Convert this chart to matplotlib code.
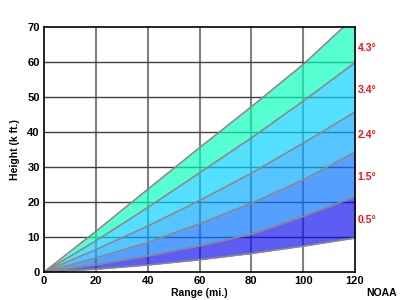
import matplotlib
matplotlib.use("agg")
import matplotlib.pyplot as plt
import numpy as np

# beam height (k ft) vs range (mi)
ranges = [0, 20, 40, 60, 80, 100, 120]
beam_top = [0, 11.6, 23.6, 35.5, 47.2, 59.3, 73.0]
beam_43 = [0, 8.9, 18.4, 28.3, 38.3, 48.8, 59.8]
beam_34 = [0, 6.4, 13.1, 20.4, 28.2, 36.8, 45.7]
beam_24 = [0, 4.0, 8.4, 13.8, 19.6, 26.3, 34.2]
beam_15 = [0, 2.1, 4.6, 7.5, 10.8, 15.9, 21.5]
beam_bot = [0, 0.8, 2.0, 3.5, 5.3, 7.4, 9.7]

angles = ['4.3°', '3.4°', '2.4°', '1.5°', '0.5°']
band_colors = ['#05ffbd', '#05d0ff', '#05a8ff', '#0573ff', '#1010f0']

lines = [beam_top, beam_43, beam_34, beam_24, beam_15, beam_bot]

plt.rcParams['font.family'] = ['Liberation Sans', 'DejaVu Sans']
plt.rcParams['font.weight'] = 'bold'

fig = plt.figure(figsize=(4, 3), dpi=100)
ax = fig.add_axes([0.11, 0.0933, 0.7775, 0.8167])

# grid first, fills go over it with some transparency
for x in range(20, 120, 20):
    ax.axvline(x, color='#808080', lw=1.5, zorder=1)
for y in range(10, 70, 10):
    ax.axhline(y, color='#404040', lw=1.0, zorder=1)

for i in range(5):
    ax.fill_between(ranges, lines[i + 1], lines[i], color=band_colors[i],
                    alpha=0.68, lw=0, zorder=2)
for ln in lines:
    ax.plot(ranges, ln, color='#888888', lw=1.2, zorder=3)

for i, lab in enumerate(angles):
    ymid = (min(lines[i][-1], 70) + lines[i + 1][-1]) / 2 - 0.8
    ax.text(121, ymid, lab, color='#ff1010', fontsize=7.5, fontweight='bold',
            ha='left', va='center', clip_on=False)

ax.set_xlim(0, 120)
ax.set_ylim(0, 70)
ax.set_xticks(range(0, 121, 20))
ax.set_yticks(range(0, 71, 10))
ax.tick_params(length=0, labelsize=8, pad=3)
for s in ax.spines.values():
    s.set_linewidth(1.2)
    s.set_zorder(5)
ax.set_xlabel('Range (mi.)', fontsize=7.5, fontweight='bold', labelpad=1)
ax.set_ylabel('Height (k ft.)', fontsize=7.5, fontweight='bold', labelpad=5)
fig.text(0.953, 0.012, 'NOAA', fontsize=7.5, fontweight='bold', ha='center')

plt.savefig('out.png', dpi=100)
plt.close()
